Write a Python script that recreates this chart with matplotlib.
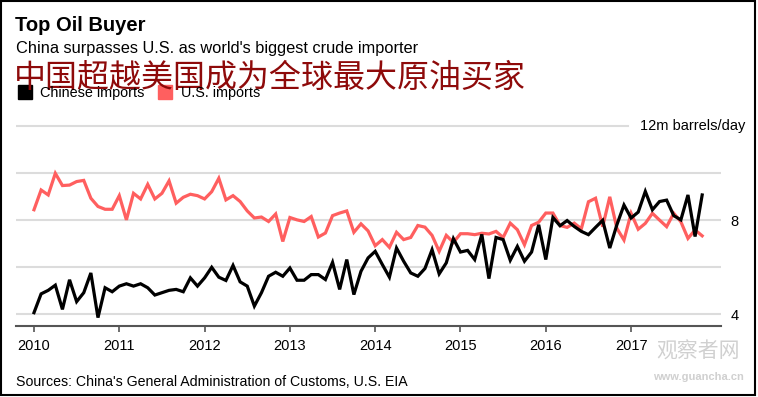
import numpy as np
import matplotlib
matplotlib.use("Agg")
import matplotlib.pyplot as plt
from matplotlib.patches import Rectangle

# monthly crude imports, million barrels/day, Jan 2010 - Nov 2017
chinese = [4.07, 4.87, 5.02, 5.24, 4.21, 5.47, 4.54, 4.92, 5.76, 3.86, 5.13, 4.96,
           5.20, 5.30, 5.20, 5.30, 5.13, 4.82, 4.92, 5.02, 5.06, 4.96, 5.55, 5.20,
           5.55, 6.00, 5.58, 5.44, 6.08, 5.38, 5.20, 4.35, 4.92, 5.62, 5.79, 5.62,
           5.97, 5.45, 5.45, 5.69, 5.69, 5.48, 6.21, 5.06, 6.33, 4.84, 5.83, 6.40,
           6.68, 6.12, 5.58, 6.82, 6.26, 5.76, 5.62, 5.95, 6.75, 5.72, 6.19, 7.22,
           6.65, 6.72, 6.33, 7.40, 5.52, 7.27, 7.18, 6.30, 6.89, 6.26, 6.65, 7.81,
           6.33, 8.12, 7.77, 7.99, 7.74, 7.53, 7.39, 7.70, 8.00, 6.82, 7.81, 8.65,
           8.10, 8.35, 9.23, 8.45, 8.80, 8.86, 8.20, 8.02, 9.08, 7.31, 9.08]
us = [8.45, 9.29, 9.08, 10.00, 9.48, 9.50, 9.65, 9.70, 8.94, 8.59, 8.47, 8.47,
      9.05, 8.02, 9.15, 8.91, 9.53, 8.91, 9.15, 9.68, 8.73, 8.98, 9.11, 9.05,
      8.91, 9.22, 9.79, 8.87, 9.05, 8.80, 8.40, 8.10, 8.14, 7.95, 8.27, 7.10,
      8.12, 8.02, 7.95, 8.16, 7.29, 7.46, 8.20, 8.31, 8.40, 7.49, 7.85, 7.55,
      6.92, 7.18, 6.85, 7.49, 7.18, 7.27, 7.78, 7.71, 7.36, 6.68, 7.36, 7.06,
      7.43, 7.43, 7.39, 7.45, 7.42, 7.53, 7.27, 7.88, 7.60, 6.96, 7.78, 7.92,
      8.31, 8.31, 7.78, 7.70, 7.88, 7.64, 8.79, 8.94, 7.73, 9.00, 7.66, 7.16,
      8.30, 7.62, 7.87, 8.30, 8.01, 7.73, 8.30, 7.94, 7.23, 7.59, 7.34]
years = list(range(2010, 2018))
grid_levels = [4, 6, 8, 10]

x = 2010 + np.arange(len(chinese)) / 12

W, H = 758, 397
fig = plt.figure(figsize=(W / 100, H / 100), dpi=100)

def fx(px):
    return px / W

def fy(py):
    return 1 - py / H

narrow = ["Liberation Sans Narrow", "Liberation Sans", "DejaVu Sans"]
sans = ["Liberation Sans", "DejaVu Sans"]
cjk = ["Noto Sans CJK SC", "DejaVu Sans"]
red = "#ff5f5f"

ax = fig.add_axes([fx(16), fy(325.7), fx(721 - 16), (325.7 - 119.3) / H])
ax.set_xlim(2009.789, 2018.054)
ax.set_ylim(3.515, 12.3)

for g in grid_levels:
    ax.axhline(g, color="#dcdcdc", lw=1.5, zorder=0)
ax.axhline(12, xmax=(628 - 16) / (721 - 16), color="#dcdcdc", lw=1.5, zorder=0)

ax.plot(x, us, color=red, lw=2.3, solid_joinstyle="miter", zorder=2)
ax.plot(x, chinese, color="black", lw=2.3, solid_joinstyle="miter", zorder=3)

for s in ["top", "left", "right"]:
    ax.spines[s].set_visible(False)
ax.spines["bottom"].set_color("#555555")
ax.spines["bottom"].set_linewidth(1.5)

ax.set_xticks(years)
ax.set_xticklabels([str(y) for y in years], family=narrow, fontsize=10.5)
ax.tick_params(axis="x", length=4, width=1.2, color="#555555", pad=5.5)

ax.yaxis.tick_right()
ax.set_yticks([4, 8])
ax.set_yticklabels(["4", "8"], family=sans, fontsize=10.5)
ax.tick_params(axis="y", length=0, pad=7)

fig.text(fx(745), fy(126), "12m barrels/day", family=sans, fontsize=10.5,
         ha="right", va="center")

# titles
fig.text(fx(15), fy(31), "Top Oil Buyer", family=sans, fontsize=14.5,
         fontweight="bold", ha="left", va="baseline")
fig.text(fx(16), fy(53), "China surpasses U.S. as world's biggest crude importer",
         family=sans, fontsize=11.8, ha="left", va="baseline")
fig.text(fx(14), fy(78), "中国超越美国成为全球最大原油买家", family=cjk,
         fontsize=23, color="#8e0a0a", ha="left", va="center")

# legend
fig.patches.append(Rectangle((fx(18), fy(99)), fx(14), 14 / H, color="black",
                             transform=fig.transFigure, figure=fig))
fig.text(fx(40), fy(93), "Chinese imports", family=sans, fontsize=10.4,
         ha="left", va="center")
fig.patches.append(Rectangle((fx(158), fy(99)), fx(14), 14 / H, color=red,
                             transform=fig.transFigure, figure=fig))
fig.text(fx(181), fy(93), "U.S. imports", family=sans, fontsize=10.4,
         ha="left", va="center")

fig.text(fx(16), fy(382), "Sources: China's General Administration of Customs, U.S. EIA",
         family=narrow, fontsize=10.2, ha="left", va="center")

# watermark
fig.text(fx(698), fy(352), "观察者网", family=cjk, fontsize=15, color="#d0d0d0",
         ha="center", va="center")
fig.text(fx(698), fy(377), "www.guancha.cn", family=narrow, fontsize=8,
         fontweight="bold", color="#d0d0d0", ha="center", va="center")

# frame
fig.patches.append(Rectangle((fx(1), fy(395)), fx(754), 394 / H, fill=False,
                             edgecolor="black", lw=1.5,
                             transform=fig.transFigure, figure=fig))

fig.savefig("out.png", dpi=100)
